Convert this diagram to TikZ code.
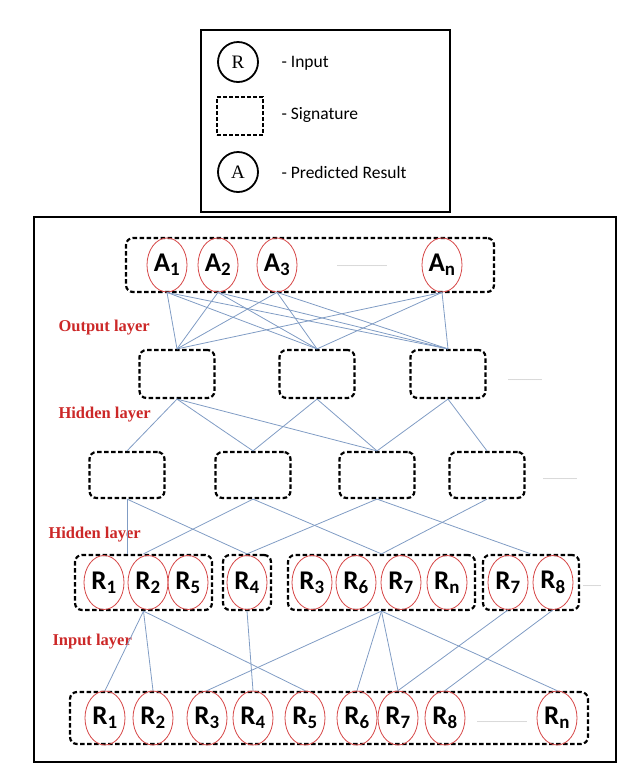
\documentclass[tikz,border=0pt]{standalone}
\usepackage{fontspec}
\setmainfont{Liberation Serif}
\newfontfamily\labfont{Carlito}
\usetikzlibrary{shapes.geometric,calc}
\definecolor{wireblue}{RGB}{128,156,196}
\definecolor{ringred}{RGB}{214,72,72}
\definecolor{layerred}{RGB}{204,40,40}
\tikzset{
  sig/.style     = {draw, dash pattern=on 4.5pt off 2.5pt, line width=2.2pt,
                    rounded corners=7pt, inner sep=0pt},
  ring/.style    = {ellipse, draw=ringred, line width=0.8pt, minimum width=40pt,
                    minimum height=54pt, inner sep=0pt,
                    font=\labfont\bfseries\fontsize{27}{29}\selectfont},
  keyring/.style = {circle, draw, line width=1.8pt, minimum size=40pt, inner sep=0pt,
                    font=\fontsize{19}{21}\selectfont},
  keytext/.style = {anchor=west, font=\labfont\fontsize{17.5}{20}\selectfont},
  layer/.style   = {anchor=west, text=layerred, font=\bfseries\fontsize{16.5}{18}\selectfont},
  more/.style    = {text=gray, inner sep=0pt, font=\fontsize{8}{8}\selectfont},
  wire/.style    = {draw=wireblue, line width=0.8pt}
}

\begin{document}
\begin{tikzpicture}[x=1pt, y=-1pt]
  \useasboundingbox (0,0) rectangle (639,772);

  % key
  \draw[line width=1.8pt] (201,30) rectangle (450,212);
  \node[keyring] (kr) at (238,62) {R};
  \node[keytext] (krt) at (278,63) {- Input};
  \node[draw, dash pattern=on 4pt off 2pt, line width=2.2pt, minimum width=46pt,
        minimum height=38pt] (ks) at (240,116) {};
  \node[keytext] (kst) at (278,115) {- Signature};
  \node[keyring] (ka) at (238,172) {A};
  \node[keytext] (kat) at (278,172) {- Predicted Result};

  % network frame
  \draw[line width=1.8pt] (34,217) rectangle (616,762);

  % output signature
  \node[sig, minimum width=368pt, minimum height=54pt] (arow) at (310,265) {};
  \foreach \x/\n/\t in {167/a1/1, 218/a2/2, 277/a3/3, 442/an/n}
    \node[ring] (\n) at (\x,265) {A\textsubscript{\t}};
  \node[more] (adots) at (362,266) {.........................};

  % hidden signatures
  \foreach \x/\n in {177/ha1, 317/ha2, 448/ha3}
    \node[sig, minimum width=75pt, minimum height=48pt] (\n) at (\x,374) {};
  \node[more] (hadots) at (525,380) {.................};
  \foreach \x/\n in {127/hb1, 253/hb2, 377/hb3, 487/hb4}
    \node[sig, minimum width=75pt, minimum height=46pt] (\n) at (\x,475) {};
  \node[more] (hbdots) at (560,479) {.................};

  % grouped inputs
  \node[sig, minimum width=137pt, minimum height=55pt] (g1) at (143.5,582.5) {};
  \node[sig, minimum width=48pt, minimum height=55pt] (g2) at (247,582.5) {};
  \node[sig, minimum width=187pt, minimum height=55pt] (g3) at (381.5,582.5) {};
  \node[sig, minimum width=96pt, minimum height=55pt] (g4) at (531,582.5) {};
  \foreach \x/\n/\t in {104/s1/1, 148/s2/2, 188/s5/5, 247/s4/4, 312/s3/3,
                        356/s6/6, 401/t7/7, 447/sn/n, 508/s7/7, 553/s8/8}
    \node[ring] (\n) at (\x,582.5) {R\textsubscript{\t}};
  \node[more] (gdots) at (592,586) {.........};

  % raw inputs
  \node[sig, minimum width=518pt, minimum height=52pt] (brow) at (329,718) {};
  \foreach \x/\n/\t in {105/b1/1, 153/b2/2, 207/b3/3, 253/b4/4, 305/b5/5,
                        357/b6/6, 398/b7/7, 445/b8/8, 557/bn/n}
    \node[ring] (\n) at (\x,718) {R\textsubscript{\t}};
  \node[more] (bdots) at (502,722) {.........................};

  % layer names
  \node[layer] (lout) at (55,328) {Output layer};
  \node[layer] (lhid) at (55,415) {Hidden layer};
  \node[layer] (lhid2) at (45,535) {Hidden layer};
  \node[layer] (lin) at (49,642) {Input layer};

  % links
  \foreach \a in {a1,a2,a3,an}
    \foreach \h in {ha1,ha2,ha3}
      \draw[wire] (\a.south) -- (\h.north);
  \foreach \s/\t in {ha1/hb1, ha1/hb2, ha1/hb3, ha2/hb2, ha2/hb3, ha3/hb3, ha3/hb4}
    \draw[wire] (\s.south) -- (\t.north);
  \draw[wire] (hb1.south) -- (hb1.south |- g1.north);
  \foreach \s/\t in {hb1/g2, hb2/g1, hb2/g3, hb3/g2, hb3/g4, hb4/g3}
    \draw[wire] (\s.south) -- (\t.north);
  \foreach \s/\t in {g1/b1, g1/b2, g1/b5, g2/b4, g3/b3, g3/b6, g3/b7, g3/bn, s7/b7, s8/b8}
    \draw[wire] (\s.south) -- (\t.north);
\end{tikzpicture}
\end{document}
